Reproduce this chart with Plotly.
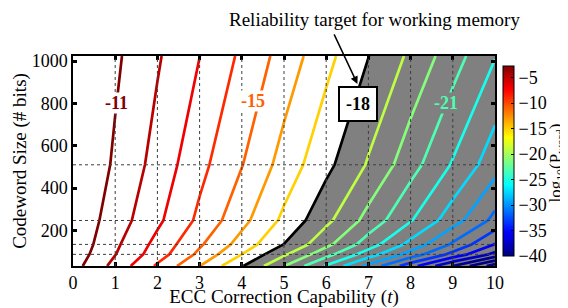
import plotly.graph_objects as go

# ---------------- data ----------------
t_vals = [0, 1, 2, 3, 4, 5, 6, 7, 8, 9, 10]
n_vals = [32, 87, 134, 247, 510, 1024]
logp_n32   = [-10.60, -12.33, -14.15, -15.98, -17.92, -19.98, -22.10, -24.30, -26.60, -29.00, -31.50]
logp_n87   = [-10.38, -11.97, -13.52, -15.23, -17.00, -18.85, -20.65, -22.50, -24.40, -26.30, -28.30]
logp_n134  = [-10.25, -11.81, -13.30, -14.86, -16.40, -18.02, -19.73, -21.50, -23.30, -25.15, -27.05]
logp_n247  = [-10.20, -11.48, -12.80, -14.22, -15.70, -17.22, -18.75, -20.35, -21.93, -23.55, -25.30]
logp_n510  = [-9.96, -11.14, -12.36, -13.71, -14.96, -16.39, -17.73, -19.10, -20.60, -22.09, -23.60]
logp_n1024 = [-9.75, -10.83, -11.89, -12.99, -14.19, -15.39, -16.70, -17.98, -19.19, -20.56, -21.95]

target_level = -18
level_range = [-31, -11]      # contour levels drawn, step 1
line_color_range = [-29.2, -11]
label_levels = [-11, -15, -21]
label_pos_t = [1.04, 4.27, 8.83]
label_pos_n = [802, 812, 802]
target_label_pos = [6.76, 798]
arrow_head = [6.74, 892]

n_dashed = [87, 134, 247, 510]
x_ticks = list(range(0, 11))
y_ticks = [200, 400, 600, 800, 1000]
cb_ticks = [-5, -10, -15, -20, -25, -30, -35, -40]
cb_range = [-40, -2.7]

z = [logp_n32, logp_n87, logp_n134, logp_n247, logp_n510, logp_n1024]

# MATLAB-like jet
jet = [[0.0, 'rgb(0,0,128)'], [0.125, 'rgb(0,0,255)'], [0.375, 'rgb(0,255,255)'],
       [0.625, 'rgb(255,255,0)'], [0.875, 'rgb(255,0,0)'], [1.0, 'rgb(128,0,0)']]


def jet_color(v):
    lo, hi = line_color_range
    f = (v - lo) / (hi - lo)
    f = max(0.0, min(1.0, f))
    def comp(a):
        return max(0.0, min(1.0, 1.5 - abs(4 * f - a)))
    r, g, b = comp(3), comp(2), comp(1)
    return 'rgb(%d,%d,%d)' % (round(r * 255), round(g * 255), round(b * 255))


# line colour scale: one stop per contour level (target level drawn in black)
levels = list(range(level_range[0], level_range[1] + 1))
line_scale = []
for i, lv in enumerate(levels):
    line_scale.append([i / (len(levels) - 1), 'black' if lv == target_level else jet_color(lv)])

FONT = 'Liberation Serif'
fig = go.Figure()

# gray region below the reliability target
fig.add_trace(go.Contour(
    x=t_vals, y=n_vals, z=z, showscale=False, hoverinfo='skip',
    contours=dict(type='constraint', operation='>', value=target_level),
    fillcolor='rgb(128,128,128)', line=dict(width=0, smoothing=0)))

fig.add_trace(go.Contour(
    x=t_vals, y=n_vals, z=z, showscale=False, hoverinfo='skip',
    colorscale=line_scale, autocontour=False,
    contours=dict(start=level_range[0], end=level_range[1], size=1, coloring='lines'),
    line=dict(width=2.7, smoothing=0)))

# colour bar
fig.add_trace(go.Scatter(
    x=[None], y=[None], mode='markers', showlegend=False, hoverinfo='skip',
    marker=dict(color=[cb_range[0]], colorscale=jet, cmin=cb_range[0], cmax=cb_range[1],
                showscale=True,
                colorbar=dict(x=1.019, xanchor='left', xpad=0, y=0.5, yanchor='middle',
                              len=1.0, lenmode='fraction', thickness=11,
                              outlinewidth=1, outlinecolor='black',
                              tickvals=cb_ticks, ticks='inside', ticklen=3,
                              tickcolor='black',
                              tickfont=dict(family=FONT, size=18, color='black')))))

shapes = []
for tv in x_ticks[1:-1]:
    shapes.append(dict(type='line', xref='x', yref='y', x0=tv, x1=tv, y0=n_vals[0], y1=n_vals[-1],
                       line=dict(color='rgb(60,60,60)', width=1, dash='3px,3px'), layer='above'))
for nv in n_dashed:
    shapes.append(dict(type='line', xref='x', yref='y', x0=t_vals[0], x1=t_vals[-1], y0=nv, y1=nv,
                       line=dict(color='rgb(60,60,60)', width=1, dash='3px,3px'), layer='above'))

annotations = []
for lv, tx, ny in zip(label_levels, label_pos_t, label_pos_n):
    bg = 'rgb(128,128,128)' if lv < target_level else 'white'
    annotations.append(dict(x=tx, y=ny, xref='x', yref='y', text='<b>%d</b>' % lv,
                            showarrow=False, bgcolor=bg, borderpad=0,
                            font=dict(family=FONT, size=18, color=jet_color(lv))))
annotations.append(dict(x=target_label_pos[0], y=target_label_pos[1], xref='x', yref='y',
                        text='<b>%d</b>' % target_level, showarrow=False, bgcolor='white',
                        bordercolor='black', borderwidth=2, borderpad=6,
                        font=dict(family=FONT, size=18, color='black')))
annotations.append(dict(x=arrow_head[0], y=arrow_head[1], xref='x', yref='y', text='',
                        showarrow=True, ax=-24, ay=-51, arrowhead=2, arrowsize=1,
                        arrowwidth=1.5, arrowcolor='black'))
annotations.append(dict(x=0.7156, y=1.176, xref='paper', yref='paper',
                        text='Reliability target for working memory', showarrow=False,
                        xanchor='center', yanchor='middle',
                        font=dict(family=FONT, size=19, color='black')))
# colour bar title
annotations.append(dict(x=1.148, y=0.49, xref='paper', yref='paper',
                        text='log<sub>10</sub>(P<sub>word</sub>)', textangle=-90,
                        showarrow=False, xanchor='center', yanchor='middle',
                        font=dict(family=FONT, size=17, color='black')))

axis_common = dict(showline=True, linecolor='black', linewidth=1.5, mirror='allticks',
                   ticks='inside', ticklen=4, tickwidth=2.5, tickcolor='black',
                   showgrid=False, zeroline=False, automargin=False,
                   tickfont=dict(family=FONT, size=18, color='black'))

# the page adds an 8px body margin, so the figure is sized to fit the 568x308 window
fig.update_layout(
    width=560, height=300,
    margin=dict(l=65, r=73, t=48, b=42, autoexpand=False),
    paper_bgcolor='white', plot_bgcolor='white',
    showlegend=False,
    xaxis=dict(range=[t_vals[0], t_vals[-1]], tickvals=x_ticks,
               title=dict(text='ECC Correction Capability (<i>t</i>)', standoff=0,
                          font=dict(family=FONT, size=19, color='black')),
               **axis_common),
    yaxis=dict(range=[n_vals[0], n_vals[-1]], tickvals=y_ticks,
               title=dict(text='Codeword Size (# bits)', standoff=0,
                          font=dict(family=FONT, size=19, color='black')),
               **axis_common),
    shapes=shapes, annotations=annotations,
)

fig.write_html('out.html')
